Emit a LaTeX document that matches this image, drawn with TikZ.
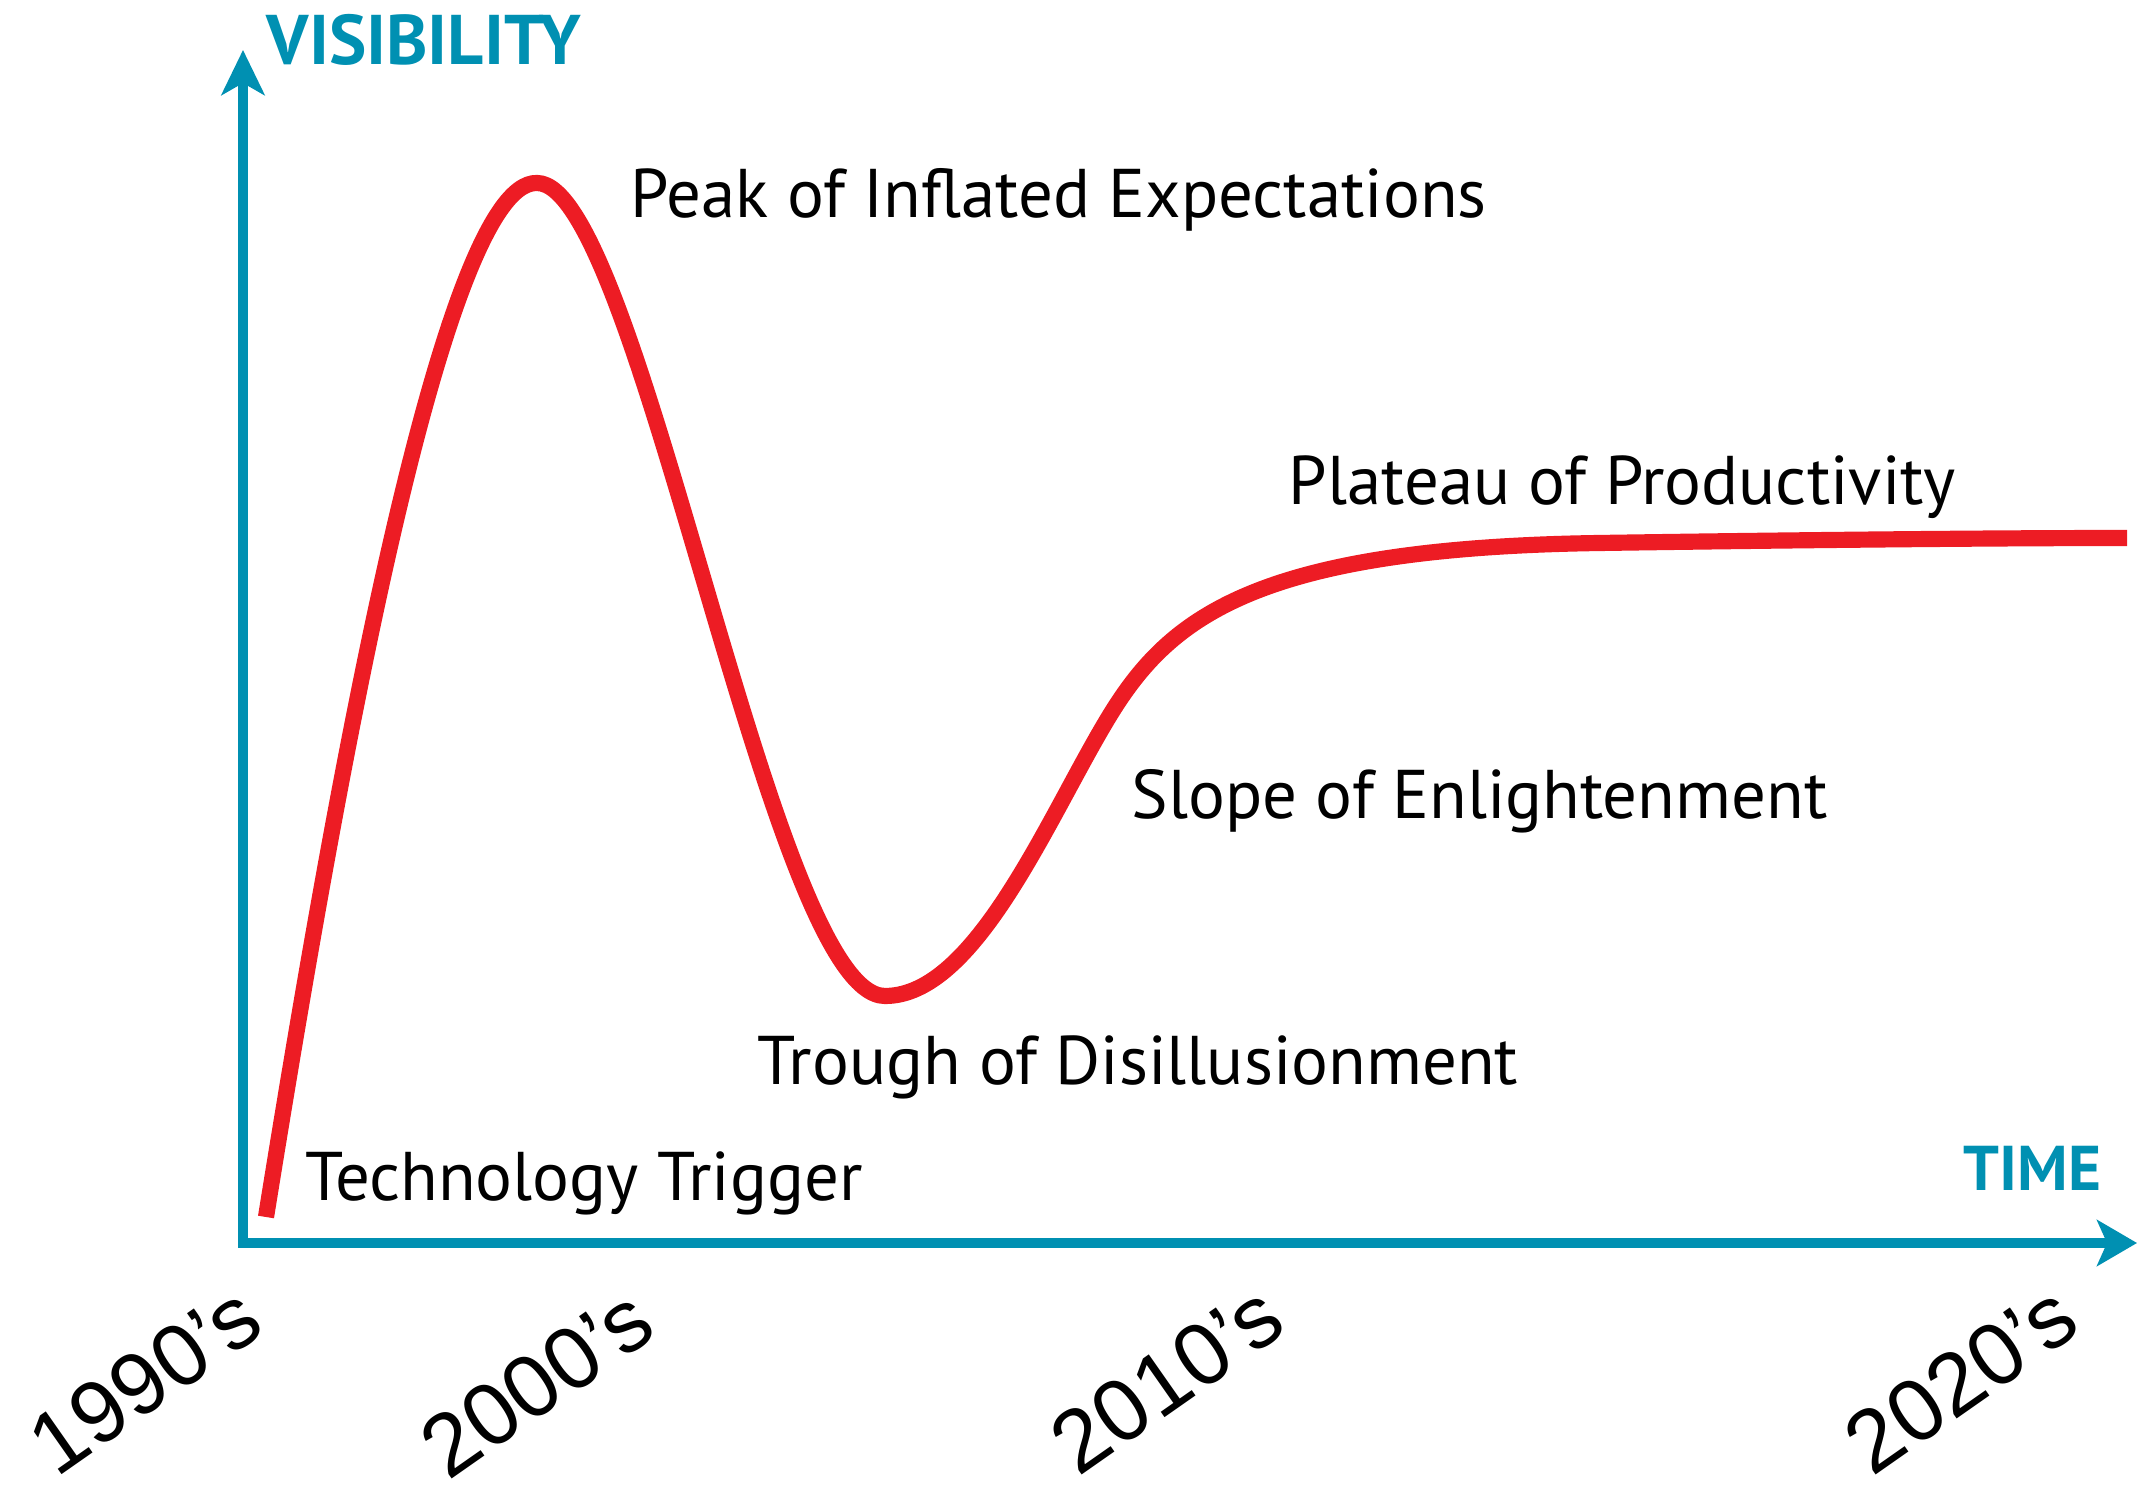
\documentclass[tikz,border=0pt]{standalone}
\usepackage{fontspec}
\setmainfont{PT Sans}
\newfontfamily\yearfont[Ligatures=TeX]{Liberation Sans}
\usepackage{tikz}
\usetikzlibrary{arrows.meta}
\definecolor{hypeteal}{RGB}{0,144,178}
\definecolor{hypered}{RGB}{237,28,36}
\tikzstyle{axisline} = [color=hypeteal,line width=2.85pt,line join=miter,{Stealth[length=0.45cm,width=0.43cm,inset=0.12cm]}-{Stealth[length=0.40cm,width=0.46cm,inset=0.10cm]}]
\tikzstyle{hypeline} = [color=hypered,line width=4.6pt]
\tikzstyle{phase} = [anchor=base west,inner sep=0pt,font=\fontsize{19.6}{22}\selectfont]
\tikzstyle{axislabel} = [anchor=base west,inner sep=0pt,color=hypeteal,font=\bfseries\fontsize{20}{22}\selectfont]
\tikzstyle{decade} = [rotate=35,inner sep=0pt,font=\yearfont\fontsize{25}{27}\selectfont]

\begin{document}
\begin{tikzpicture}
          \useasboundingbox (0,0) rectangle (21.37,14.84);
          % axes
          \coordinate (O) at (2.43,2.41);
          \coordinate (Xend) at (21.37,2.41);
          \coordinate (Yend) at (2.43,14.34);
          \draw [axisline] (Yend) -- (O) -- (Xend);
          \node [axislabel] (vis) at (2.66,14.19) {VISIBILITY};
          \node [axislabel,font=\bfseries\fontsize{18}{20}\selectfont] (time) at (19.63,2.93) {TIME};

          % hype curve
          \coordinate (trigger) at (2.66,2.67);
          \coordinate (peak) at (5.37,13.01);
          \coordinate (trough) at (8.85,4.88);
          \coordinate (slope) at (11.07,7.64);
          \coordinate (knee) at (16.00,9.41);
          \coordinate (plateau) at (21.27,9.46);
          \draw [hypeline] (trigger) .. controls (3.30,6.64) and (4.40,13.04) .. (peak)
            .. controls (6.40,13.01) and (7.70,4.88) .. (trough)
            .. controls (9.75,4.88) and (10.47,6.64) .. (slope)
            .. controls (11.67,8.64) and (12.50,9.36) .. (knee)
            .. controls (18.00,9.44) and (20.00,9.46) .. (plateau);

          % phases
          \node [phase] (tt) at (3.05,2.83) {Technology Trigger};
          \node [phase] (pk) at (6.30,12.66) {Peak of Inflated Expectations};
          \node [phase] (tr) at (7.57,3.99) {Trough of Disillusionment};
          \node [phase] (sl) at (11.31,6.65) {Slope of Enlightenment};
          \node [phase] (pl) at (12.88,9.79) {Plateau of Productivity};

          % decades
          \node [decade] (d90) at (1.45,1.04) {1990’s};
          \node [decade] (d00) at (5.37,1.01) {2000’s};
          \node [decade] (d10) at (11.67,1.05) {2010’s};
          \node [decade] (d20) at (19.61,1.05) {2020’s};
      \end{tikzpicture}
\end{document}
